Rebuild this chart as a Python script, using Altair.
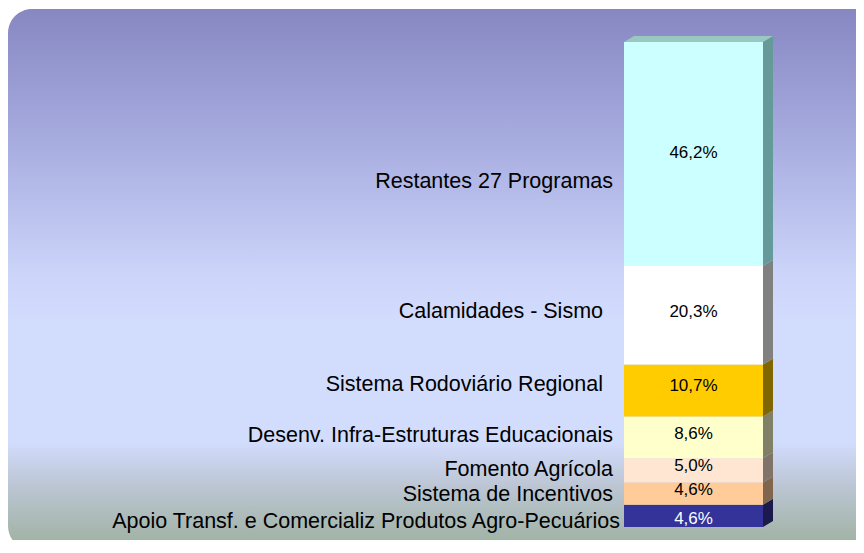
import altair as alt
import pandas as pd

# ---- data (bottom to top of the stacked bar) ----
categories = [
    "Apoio Transf. e Comercializ Produtos Agro-Pecuários",
    "Sistema de Incentivos",
    "Fomento Agrícola",
    "Desenv. Infra-Estruturas Educacionais",
    "Sistema Rodoviário Regional",
    "Calamidades - Sismo",
    "Restantes 27 Programas",
]
values = [4.6, 4.6, 5.0, 8.6, 10.7, 20.3, 46.2]
value_labels = ["4,6%", "4,6%", "5,0%", "8,6%", "10,7%", "20,3%", "46,2%"]

# ---- styles ----
front_colors = ["#333399", "#FFCC99", "#FFE6D2", "#FFFFCC", "#FFCC00", "#FFFFFF", "#CCFFFF"]
side_colors = ["#1A1A4D", "#80664D", "#807369", "#808066", "#806600", "#808080", "#669999"]
top_color = "#99C8C0"
pct_colors = ["#FFFFFF", "#000000", "#000000", "#000000", "#000000", "#000000", "#000000"]
label_dx = [7, 0, 0, 0, -10, -10, 0]
label_dy = [6, 1, 0, -1, -5, -3, 28]
pct_dy = [3, -4, -4, -3, -4, -3, -1]

W, H = 848, 532
BAR_X0, BAR_X1 = 616, 755
DX, DY = 10, 6
Y_BOTTOM, Y_TOP = 519, 34
PX_PER_UNIT = (Y_BOTTOM - Y_TOP) / 100.0
depth = DY / PX_PER_UNIT

# ---- tables built from the arrays ----
rows = []
start = 0.0
for i, (c, v) in enumerate(zip(categories, values)):
    rows.append(dict(cat=c, start=start, end=start + v, mid=start + v / 2,
                     front=front_colors[i], side=side_colors[i], pct=value_labels[i],
                     pctc=pct_colors[i], idx=i))
    start += v
df = pd.DataFrame(rows)
total = start

side_rows = []
for r in rows:
    side_rows.append(dict(cat=r["cat"], px=BAR_X1, y=r["start"], y2=r["end"], side=r["side"]))
    side_rows.append(dict(cat=r["cat"], px=BAR_X1 + DX, y=r["start"] + depth, y2=r["end"] + depth, side=r["side"]))
side_df = pd.DataFrame(side_rows)

top_df = pd.DataFrame([
    dict(px=BAR_X0, y=total, y2=total),
    dict(px=BAR_X0 + DX, y=total, y2=total + depth),
    dict(px=BAR_X1, y=total, y2=total + depth),
    dict(px=BAR_X1 + DX, y=total + depth, y2=total + depth),
])

yscale = alt.Scale(domain=[0, 100], range=[Y_BOTTOM, Y_TOP], nice=False, zero=False)
xscale = alt.Scale(domain=[0, W], range=[0, W], nice=False, zero=False)
noaxis = None

bg = alt.Chart(alt.Data(values=[{}])).mark_rect(
    cornerRadius=24,
    color=alt.Gradient(
        gradient="linear", x1=0, x2=0, y1=0, y2=1,
        stops=[
            alt.GradientStop(offset=0.0, color="#8787C2"),
            alt.GradientStop(offset=0.25, color="#A8ADE0"),
            alt.GradientStop(offset=0.5, color="#CDD6FA"),
            alt.GradientStop(offset=0.58, color="#D2DCFD"),
            alt.GradientStop(offset=0.8, color="#D2DCFD"),
            alt.GradientStop(offset=0.88, color="#BCC6D4"),
            alt.GradientStop(offset=1.0, color="#9DB09E"),
        ],
    ),
).encode(x=alt.value(0), x2=alt.value(W + 40), y=alt.value(1), y2=alt.value(542))

front = alt.Chart(df).mark_rect().encode(
    x=alt.value(BAR_X0), x2=alt.value(BAR_X1),
    y=alt.Y("start:Q", scale=yscale, axis=noaxis),
    y2="end:Q",
    color=alt.Color("front:N", scale=None),
)

sides = alt.Chart(side_df).mark_area().encode(
    x=alt.X("px:Q", scale=xscale, axis=noaxis),
    y=alt.Y("y:Q", scale=yscale, axis=noaxis),
    y2="y2:Q",
    detail="cat:N",
    color=alt.Color("side:N", scale=None),
)

top = alt.Chart(top_df).mark_area(color=top_color).encode(
    x=alt.X("px:Q", scale=xscale, axis=noaxis),
    y=alt.Y("y:Q", scale=yscale, axis=noaxis),
    y2="y2:Q",
)

layers = [bg, sides, top, front]

for i in range(len(categories)):
    sub = df[df["idx"] == i]
    layers.append(
        alt.Chart(sub).mark_text(
            align="right", baseline="middle", font="Liberation Sans", fontSize=21.5,
            color="#000000", dx=label_dx[i], dy=label_dy[i],
        ).encode(x=alt.value(BAR_X0 - 11), y=alt.Y("mid:Q", scale=yscale, axis=noaxis), text="cat:N")
    )
    layers.append(
        alt.Chart(sub).mark_text(
            align="center", baseline="middle", font="Liberation Sans", fontSize=17,
            color=pct_colors[i], dy=pct_dy[i],
        ).encode(x=alt.value((BAR_X0 + BAR_X1) / 2), y=alt.Y("mid:Q", scale=yscale, axis=noaxis), text="pct:N")
    )

chart = alt.layer(*layers).properties(
    width=W, height=H, autosize=alt.AutoSizeParams(type="none"), padding=0, background="#FFFFFF"
).configure_view(stroke=None)

chart.save("out.html", embed_options={"renderer": "svg", "actions": False})
